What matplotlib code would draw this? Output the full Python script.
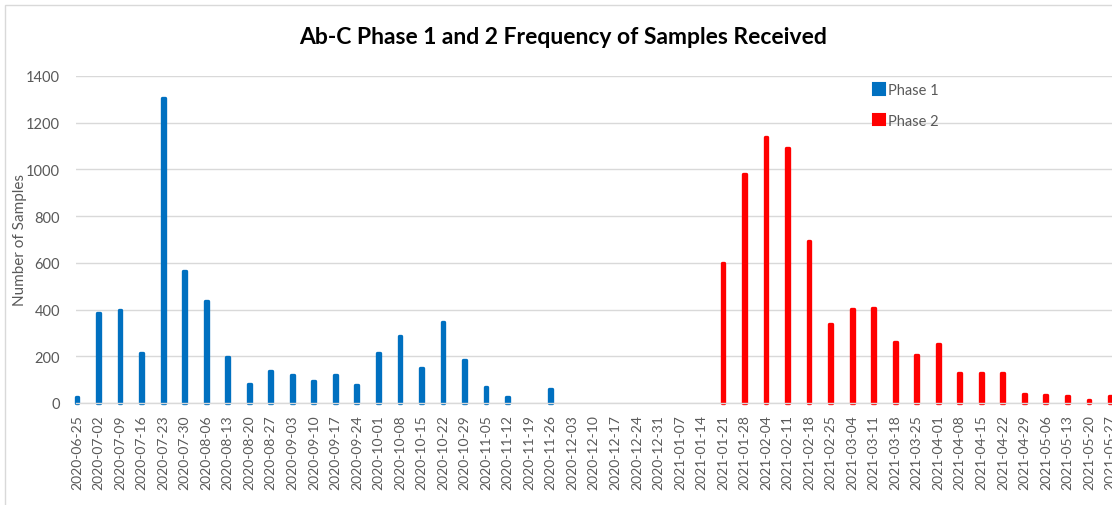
import numpy as np
import matplotlib
matplotlib.use("Agg")
import matplotlib.pyplot as plt
from matplotlib.patches import Patch, Rectangle

plt.rcParams['font.family'] = ['Lato', 'DejaVu Sans']

dates = ["2020-06-25", "2020-07-02", "2020-07-09", "2020-07-16", "2020-07-23", "2020-07-30",
         "2020-08-06", "2020-08-13", "2020-08-20", "2020-08-27", "2020-09-03", "2020-09-10",
         "2020-09-17", "2020-09-24", "2020-10-01", "2020-10-08", "2020-10-15", "2020-10-22",
         "2020-10-29", "2020-11-05", "2020-11-12", "2020-11-19", "2020-11-26", "2020-12-03",
         "2020-12-10", "2020-12-17", "2020-12-24", "2020-12-31", "2021-01-07", "2021-01-14",
         "2021-01-21", "2021-01-28", "2021-02-04", "2021-02-11", "2021-02-18", "2021-02-25",
         "2021-03-04", "2021-03-11", "2021-03-18", "2021-03-25", "2021-04-01", "2021-04-08",
         "2021-04-15", "2021-04-22", "2021-04-29", "2021-05-06", "2021-05-13", "2021-05-20",
         "2021-05-27"]

nan = np.nan
phase1 = [25, 385, 398, 213, 1306, 566, 438, 197, 83, 137, 120, 94, 120, 75, 214, 288, 148,
          348, 183, 67, 26, nan, 58] + [nan] * 26
phase2 = [nan] * 30 + [599, 982, 1137, 1092, 695, 338, 403, 407, 260, 206, 251, 129, 129, 129,
                       39, 36, 30, 13, 30]

yticks = [0, 200, 400, 600, 800, 1000, 1200, 1400]

BLUE = "#0070C0"
RED = "#FF0000"
GRAY = "#595959"
GRID = "#D9D9D9"

W, H = 1112, 506
fig = plt.figure(figsize=(W / 100, H / 100), dpi=100)
ax = fig.add_axes([76 / W, 102 / H, (W - 76) / W, 327 / H])

x = np.arange(len(dates))
bw = 0.13
lw = 2.4
ax.bar(x, phase1, width=bw, color=BLUE, edgecolor=BLUE, linewidth=lw, joinstyle='round',
       clip_on=False, zorder=2)
ax.bar(x, phase2, width=bw, color=RED, edgecolor=RED, linewidth=lw, joinstyle='round',
       clip_on=False, zorder=2)

ax.set_xlim(-0.046, 48.07)
ax.set_ylim(0, 1400)
ax.set_yticks(yticks)
ax.set_yticklabels([str(v) for v in yticks])
ax.set_xticks(x)
ax.set_xticklabels(dates, rotation=90)
ax.tick_params(axis='y', length=0, pad=11.5, labelsize=10.5, labelcolor=GRAY)
ax.tick_params(axis='x', length=0, pad=8, labelsize=10, labelcolor=GRAY)

ax.yaxis.grid(True, color=GRID, linewidth=1)
ax.set_axisbelow(True)
for s in ['top', 'left', 'right']:
    ax.spines[s].set_visible(False)
ax.spines['bottom'].set_color(GRID)
ax.spines['bottom'].set_linewidth(1)
ax.spines['bottom'].set_zorder(3)

fig.text(20 / W, 1 - 240 / H, "Number of Samples", rotation=90, ha='center', va='center',
         fontsize=11, color=GRAY)
fig.text(563 / W, 1 - 37 / H, "Ab-C Phase 1 and 2 Frequency of Samples Received",
         ha='center', va='center', fontsize=16.5, fontweight='bold', color='black')

handles = [Patch(facecolor=BLUE, edgecolor=BLUE, linewidth=1.5, joinstyle='round'),
           Patch(facecolor=RED, edgecolor=RED, linewidth=1.5, joinstyle='round')]
fig.legend(handles, ["Phase 1", "Phase 2"], loc='upper left',
           bbox_to_anchor=(873 / W, 1 - 84 / H), frameon=False, fontsize=10.5,
           handlelength=0.8, handleheight=0.8, handletextpad=0.2, labelspacing=1.15,
           labelcolor=GRAY, borderpad=0, borderaxespad=0)

fig.add_artist(Rectangle((5 / W, -0.05), 1.1, 1 - 6 / H + 0.05, transform=fig.transFigure,
                         fill=False, edgecolor=GRID, linewidth=1))

fig.savefig("out.png", dpi=100)
